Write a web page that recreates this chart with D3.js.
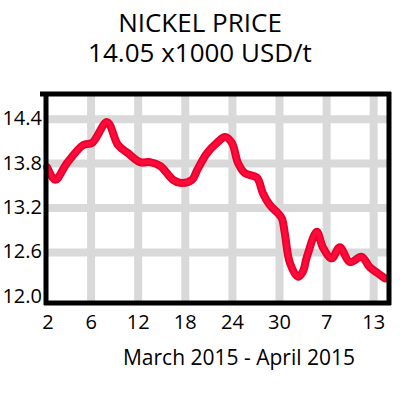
<!DOCTYPE html>
<html>
<head>
<meta charset="utf-8">
<style>
body { margin: 0; background: #fff; }
text { font-family: "Open Sans", sans-serif; fill: #000; }
</style>
</head>
<body>
<div id="chart"></div>
<script src="https://cdn.jsdelivr.net/npm/d3@7"></script>
<script>
// trading-day index (0 = Mar 2) and price in x1000 USD/t
var days = [0.27, 0.95, 1.97, 3.32, 4.09, 5.36, 6.29, 7.14, 8.16, 9.0, 9.86, 10.96, 11.55, 12.57, 13.0,
            13.84, 14.69, 15.37, 15.96, 16.47, 17.06, 18.08, 18.59, 19.18, 19.86, 20.2, 20.45, 20.88,
            21.56, 21.98, 22.33, 23.17, 23.68, 24.44, 25.12, 25.97, 26.98, 27.66, 28.34, 28.94];
var prices = [13.75, 13.58, 13.81, 14.05, 14.08, 14.36, 14.05, 13.94, 13.82, 13.82, 13.77, 13.58, 13.54, 13.58, 13.71,
              13.94, 14.08, 14.16, 14.08, 13.81, 13.67, 13.61, 13.40, 13.24, 13.13, 13.06, 12.86, 12.46,
              12.27, 12.34, 12.54, 12.88, 12.67, 12.52, 12.67, 12.47, 12.54, 12.40, 12.32, 12.25];

var xTickIdx = [0, 4, 8, 12, 16, 20, 24, 28];
var xTickLabels = ["2", "6", "12", "18", "24", "30", "7", "13"];
var yTicks = [12.0, 12.6, 13.2, 13.8, 14.4];

var W = 400, H = 400;
var pLeft = 44, pRight = 389, pTop = 94, pBottom = 302;

var svg = d3.select("#chart").append("svg")
    .attr("width", W)
    .attr("height", H);

var x = d3.scaleLinear().domain([0, 29.3]).range([pLeft, pRight]);
var y = d3.scaleLinear().domain([11.93, 14.74]).range([pBottom, pTop]);

// title
svg.append("text")
    .attr("x", 200).attr("y", 32)
    .attr("text-anchor", "middle")
    .style("font-size", "26px")
    .text("NICKEL PRICE");
svg.append("text")
    .attr("x", 200).attr("y", 62)
    .attr("text-anchor", "middle")
    .style("font-size", "26px")
    .text("14.05 x1000 USD/t");

// grid
svg.selectAll(".vgrid")
    .data(xTickIdx.slice(1))
    .enter().append("line")
    .attr("x1", function (d) { return x(d); })
    .attr("x2", function (d) { return x(d); })
    .attr("y1", pTop).attr("y2", pBottom)
    .style("stroke", "#d9d9d9")
    .style("stroke-width", 8);
svg.selectAll(".hgrid")
    .data(yTicks.slice(1))
    .enter().append("line")
    .attr("x1", pLeft).attr("x2", pRight)
    .attr("y1", function (d) { return y(d); })
    .attr("y2", function (d) { return y(d); })
    .style("stroke", "#d9d9d9")
    .style("stroke-width", 8);

// price line
var pts = days.map(function (d, i) { return [d, prices[i]]; });
var line = d3.line()
    .x(function (d) { return x(d[0]); })
    .y(function (d) { return y(d[1]); })
    .curve(d3.curveCatmullRom);
svg.append("path")
    .datum(pts)
    .attr("d", line)
    .style("fill", "none")
    .style("stroke", "#e6002a")
    .style("stroke-width", 8)
    .style("stroke-linejoin", "round")
    .style("stroke-linecap", "round");
svg.append("path")
    .datum(pts)
    .attr("d", line)
    .style("fill", "none")
    .style("stroke", "#ff0a3a")
    .style("stroke-width", 4.5)
    .style("stroke-linejoin", "round")
    .style("stroke-linecap", "round");

// frame
var frame = svg.append("g").style("stroke", "#000").style("stroke-width", 5);
frame.append("line").attr("x1", pLeft - 4).attr("x2", pRight + 2).attr("y1", pTop).attr("y2", pTop);
frame.append("line").attr("x1", pRight).attr("x2", pRight).attr("y1", pTop - 2).attr("y2", pBottom + 3);
frame.append("line").attr("x1", pLeft + 2).attr("x2", pLeft + 2).attr("y1", pTop - 2).attr("y2", pBottom + 3);
frame.append("line").attr("x1", pLeft).attr("x2", pRight + 2).attr("y1", pBottom + 1).attr("y2", pBottom + 1);

// axis labels
svg.selectAll(".ylab")
    .data(yTicks)
    .enter().append("text")
    .attr("x", 42)
    .attr("y", function (d) { return y(d) + 6; })
    .attr("text-anchor", "end")
    .style("font-size", "20px")
    .text(function (d) { return d3.format(".1f")(d); });

svg.selectAll(".xlab")
    .data(xTickIdx)
    .enter().append("text")
    .attr("x", function (d) { return x(d) + (d === 0 ? 4 : 0); })
    .attr("y", 329)
    .attr("text-anchor", "middle")
    .style("font-size", "20px")
    .text(function (d, i) { return xTickLabels[i]; });

svg.append("text")
    .attr("x", 239).attr("y", 365)
    .attr("text-anchor", "middle")
    .style("font-size", "21px")
    .text("March 2015 - April 2015");
</script>
</body>
</html>
